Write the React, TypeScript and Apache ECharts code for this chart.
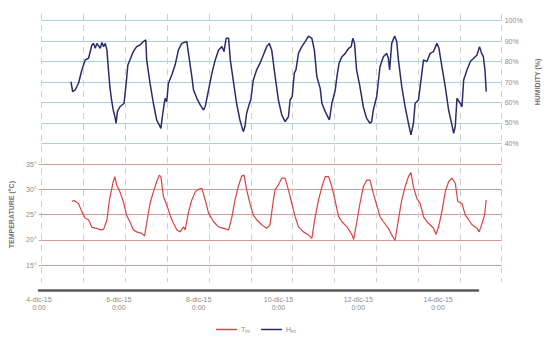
import React, { useEffect, useRef } from "react";
import * as echarts from "echarts";

// x values are days since 4-dic-15 0:00
const humDays = [
  0.70, 0.74, 0.80, 0.88, 0.96, 1.04, 1.12, 1.20, 1.24, 1.28, 1.32, 1.40, 1.44, 1.48, 1.52, 1.56, 1.59, 1.63, 1.67, 1.71,
  1.75, 1.78, 1.81, 1.87, 1.97, 2.02, 2.06, 2.11, 2.19, 2.27, 2.35, 2.43, 2.49, 2.51, 2.59, 2.67, 2.75, 2.81, 2.85, 2.89,
  2.95, 2.99, 3.03, 3.11, 3.19, 3.27, 3.35, 3.47, 3.51, 3.59, 3.63, 3.71, 3.79, 3.87, 3.91, 3.99, 4.07, 4.15, 4.23, 4.31,
  4.36, 4.41, 4.47, 4.51, 4.59, 4.66, 4.74, 4.82, 4.86, 4.90, 4.97, 5.00, 5.06, 5.14, 5.22, 5.30, 5.38, 5.44, 5.50, 5.58,
  5.66, 5.74, 5.82, 5.90, 5.94, 5.99, 6.04, 6.08, 6.14, 6.22, 6.30, 6.38, 6.46, 6.52, 6.58, 6.66, 6.70, 6.78, 6.86, 6.88,
  6.94, 7.02, 7.06, 7.11, 7.18, 7.26, 7.34, 7.40, 7.44, 7.48, 7.53, 7.61, 7.69, 7.77, 7.85, 7.89, 7.93, 8.01, 8.09, 8.17,
  8.25, 8.29, 8.32, 8.37, 8.44, 8.49, 8.53, 8.61, 8.69, 8.77, 8.83, 8.89, 8.93, 9.01, 9.05, 9.13, 9.21, 9.29, 9.37, 9.45,
  9.50, 9.57, 9.65, 9.73, 9.81, 9.85, 9.89, 9.93, 10.01, 10.05, 10.09, 10.17, 10.25, 10.33, 10.41, 10.47, 10.52, 10.56, 10.60, 10.63,
];
const humValues = [
  70.2, 65.3, 66.1, 69.4, 75.9, 80.8, 81.6, 88.1, 88.9, 86.5, 88.9, 86.5, 89.3, 87.3, 88.9, 85.7, 77.5, 67.7, 61.2, 56.3,
  53.1, 49.8, 55.5, 57.9, 59.6, 69.4, 78.3, 80.8, 84.9, 87.3, 88.1, 89.8, 90.6, 80.8, 69.4, 59.6, 51.4, 49.0, 47.3, 53.9,
  62.0, 60.4, 69.4, 73.4, 78.3, 85.7, 88.9, 89.8, 84.0, 72.6, 66.1, 62.0, 58.8, 56.3, 57.9, 66.1, 74.3, 80.8, 85.7, 87.3,
  84.9, 91.4, 91.4, 80.8, 69.4, 59.6, 51.4, 45.7, 48.2, 54.7, 59.6, 61.2, 71.0, 75.9, 79.2, 83.2, 87.3, 88.9, 85.7, 73.0,
  61.2, 53.9, 50.6, 53.0, 61.2, 62.8, 74.3, 75.9, 84.0, 87.3, 89.8, 92.5, 91.4, 85.7, 72.6, 66.9, 59.6, 55.5, 52.2, 51.4,
  59.6, 66.1, 72.6, 79.1, 82.4, 84.0, 86.5, 87.3, 91.4, 88.9, 75.9, 67.7, 57.9, 52.2, 49.8, 50.6, 56.3, 62.8, 77.5, 82.4,
  84.0, 81.6, 75.9, 88.9, 92.5, 89.8, 80.8, 67.7, 57.9, 49.8, 44.1, 49.8, 59.6, 61.2, 67.7, 80.8, 80.0, 84.0, 84.9, 88.9,
  86.5, 77.5, 67.7, 56.3, 49.0, 44.9, 48.2, 62.0, 59.6, 57.9, 71.0, 75.9, 80.0, 81.6, 83.2, 87.3, 84.0, 82.4, 75.9, 65.3,
];

const tempDays = [
  0.72, 0.77, 0.88, 0.96, 1.04, 1.12, 1.20, 1.32, 1.40, 1.48, 1.56, 1.62, 1.67, 1.71, 1.75, 1.79, 1.87, 1.95, 2.03, 2.11,
  2.19, 2.27, 2.39, 2.46, 2.51, 2.59, 2.67, 2.75, 2.81, 2.85, 2.91, 2.99, 3.07, 3.15, 3.23, 3.31, 3.39, 3.43, 3.51, 3.59,
  3.67, 3.75, 3.83, 3.91, 3.99, 4.11, 4.23, 4.35, 4.47, 4.55, 4.63, 4.70, 4.78, 4.84, 4.90, 4.98, 5.06, 5.14, 5.26, 5.38,
  5.46, 5.54, 5.58, 5.66, 5.74, 5.82, 5.90, 5.98, 6.06, 6.14, 6.26, 6.38, 6.46, 6.54, 6.62, 6.70, 6.78, 6.86, 6.94, 7.02,
  7.10, 7.18, 7.30, 7.42, 7.46, 7.53, 7.61, 7.69, 7.77, 7.85, 7.93, 8.01, 8.09, 8.17, 8.29, 8.37, 8.45, 8.53, 8.61, 8.69,
  8.77, 8.83, 8.89, 8.97, 9.05, 9.13, 9.21, 9.29, 9.37, 9.43, 9.49, 9.57, 9.65, 9.73, 9.81, 9.89, 9.95, 10.05, 10.13, 10.21,
  10.29, 10.41, 10.46, 10.52, 10.59, 10.63,
];
const tempValues = [
  27.6, 27.8, 27.2, 25.6, 24.3, 24.0, 22.5, 22.3, 22.0, 22.1, 24.0, 27.9, 29.9, 31.5, 32.5, 30.9, 29.5, 27.6, 24.9, 23.6,
  22.0, 21.6, 21.3, 20.8, 23.3, 27.2, 29.5, 31.5, 32.8, 32.5, 28.6, 26.9, 24.9, 23.3, 22.0, 21.6, 22.6, 22.0, 25.5, 27.9,
  29.5, 30.0, 30.2, 27.9, 25.3, 23.6, 22.6, 22.3, 22.0, 24.6, 28.2, 30.5, 32.6, 32.8, 29.9, 27.2, 24.9, 24.0, 23.0, 22.3,
  23.0, 27.9, 29.9, 30.9, 32.2, 32.2, 29.9, 27.2, 24.6, 22.6, 21.6, 21.0, 20.3, 24.6, 27.9, 30.5, 32.5, 32.5, 30.5, 27.6,
  24.6, 23.6, 22.6, 21.0, 20.1, 23.3, 27.2, 30.5, 31.8, 31.8, 29.2, 26.9, 24.6, 23.6, 22.3, 21.0, 19.9, 24.0, 27.9, 30.5,
  32.5, 33.3, 30.5, 28.2, 27.2, 24.6, 23.6, 23.0, 22.3, 21.1, 22.6, 25.6, 29.5, 31.5, 32.2, 31.2, 27.6, 27.2, 24.9, 24.0,
  23.0, 22.3, 21.6, 23.0, 24.9, 27.9,
];

const dateLabels = ["4-dic-15", "6-dic-15", "8-dic-15", "10-dic-15", "12-dic-15", "14-dic-15"];
const timeLabel = "0:00";

const FONT = "Liberation Sans, Arial, sans-serif";

export default function App() {
  const ref = useRef<HTMLDivElement>(null);
  useEffect(() => {
    if (!ref.current) return;
    const chart = echarts.init(ref.current, undefined, { renderer: "svg" });
    const hum = humDays.map((d, i) => [d, humValues[i]]);
    const temp = tempDays.map((d, i) => [d, tempValues[i]]);
    const labelStyle = { fontSize: 7, color: "#8c8c8c", fontFamily: FONT };
    chart.setOption({
      animation: false,
      backgroundColor: "#ffffff",
      grid: [
        { left: 41.7, top: 20.7, width: 460, height: 122.6 },
        { left: 41.7, top: 164, width: 460, height: 101.3 },
        { left: 41.7, top: 14, width: 460, height: 268 },
        { left: 39, top: 200, width: 439, height: 90.7 },
      ],
      xAxis: [
        { gridIndex: 0, type: "value", min: 0, max: 11, show: false },
        { gridIndex: 1, type: "value", min: 0, max: 11, show: false },
        {
          gridIndex: 2, type: "value", min: 0, max: 11, interval: 1,
          axisLine: { show: false }, axisTick: { show: false }, axisLabel: { show: false },
          splitLine: { show: true, lineStyle: { color: "#cfcfcf", width: 1, type: [6, 5] } },
        },
        {
          gridIndex: 3, type: "value", min: 0, max: 11, interval: 2,
          axisLine: { show: true, lineStyle: { color: "#5a5a5a", width: 2.5 } },
          axisTick: { show: false },
          splitLine: { show: false },
          axisLabel: {
            ...labelStyle, margin: 5, lineHeight: 8,
            formatter: (v: number) => (v / 2 < dateLabels.length ? dateLabels[v / 2] + "\n" + timeLabel : ""),
            showMaxLabel: false,
          },
        },
      ],
      yAxis: [
        {
          gridIndex: 0, type: "value", min: 40, max: 100, interval: 10, position: "right",
          axisLine: { show: false },
          axisTick: { show: true, length: 3, lineStyle: { color: "#a6d3dd" } },
          axisLabel: { ...labelStyle, margin: 3, formatter: (v: number) => v + "%" },
          splitLine: { show: true, lineStyle: { color: "#a6d3dd", width: 1.2 } },
          name: "HUMIDITY (%)", nameLocation: "middle", nameGap: 24, nameRotate: 90,
          nameTextStyle: { fontSize: 7, color: "#707070", fontFamily: FONT, fontWeight: "bold" },
        },
        {
          gridIndex: 1, type: "value", min: 15, max: 35, interval: 5, position: "left",
          axisLine: { show: false },
          axisTick: { show: true, length: 3, lineStyle: { color: "#cc9a9a" } },
          axisLabel: { ...labelStyle, margin: 5, formatter: (v: number) => v + "°" },
          splitLine: { show: true, lineStyle: { color: "#cf9c9c", width: 1.2 } },
          name: "TEMPERATURE (°C)", nameLocation: "middle", nameGap: 19, nameRotate: 90,
          nameTextStyle: { fontSize: 7, color: "#707070", fontFamily: FONT, fontWeight: "bold" },
        },
        { gridIndex: 2, type: "value", min: 0, max: 1, show: false },
        { gridIndex: 3, type: "value", min: 0, max: 1, show: false },
      ],
      legend: {
        left: 211, top: 321, itemWidth: 21, itemHeight: 1.5, itemGap: 11, icon: "rect",
        data: ["T_int", "H_int"],
        formatter: (name: string) => name.split("_")[0] + "{s|" + name.split("_")[1] + "}",
        textStyle: {
          fontSize: 7, color: "#8c8c8c", fontFamily: FONT, padding: [0, 0, 0, -1],
          rich: { s: { fontSize: 4.5, color: "#8c8c8c", fontFamily: FONT, padding: [4, 0, 0, 0] } },
        },
      },
      series: [
        {
          name: "T_int", type: "line", xAxisIndex: 1, yAxisIndex: 1, data: temp,
          showSymbol: false, symbol: "none", lineStyle: { color: "#d84444", width: 1.2 }, itemStyle: { color: "#d84444" },
        },
        {
          name: "H_int", type: "line", xAxisIndex: 0, yAxisIndex: 0, data: hum,
          showSymbol: false, symbol: "none", lineStyle: { color: "#2d2b6b", width: 1.5 }, itemStyle: { color: "#2d2b6b" },
        },
      ],
    });
    return () => chart.dispose();
  }, []);
  return <div ref={ref} style={{ width: 550, height: 339, position: "absolute", left: 0, top: 0 }} />;
}
